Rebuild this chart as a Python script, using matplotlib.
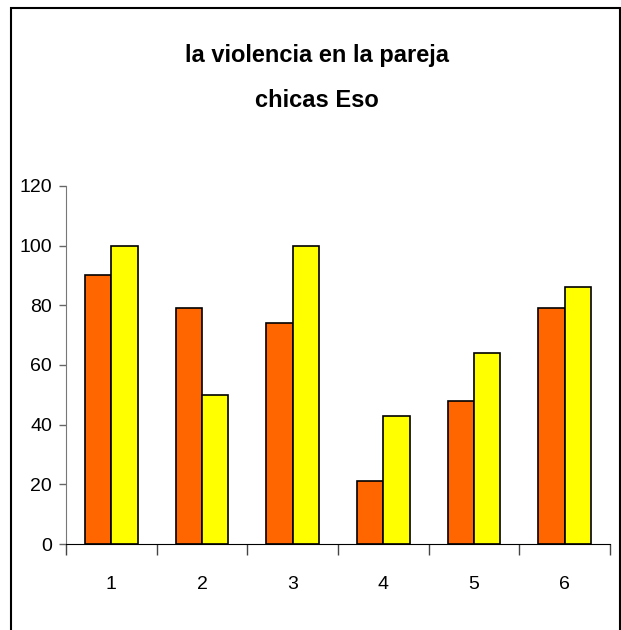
import numpy as np
import matplotlib.pyplot as plt
from matplotlib.patches import Rectangle

# data
categories = ['1', '2', '3', '4', '5', '6']
serie_naranja = [90, 79, 74, 21, 48, 79]
serie_amarilla = [100, 50, 100, 43, 64, 86]
y_ticks = [0, 20, 40, 60, 80, 100, 120]

plt.rcParams['font.family'] = ['Liberation Sans Narrow', 'Liberation Sans', 'DejaVu Sans']

fig = plt.figure(figsize=(6.21, 6.30), dpi=100)
ax = fig.add_axes([0.1063, 0.1365, 0.876, 0.5683])

x = np.arange(len(categories))
w = 0.292
ax.bar(x - w / 2, serie_naranja, width=w, color='#FF6600', edgecolor='black', linewidth=1.2)
ax.bar(x + w / 2, serie_amarilla, width=w, color='#FFFF00', edgecolor='black', linewidth=1.2)

ax.set_xlim(-0.5, len(categories) - 0.5)
ax.set_ylim(0, 120)
ax.set_yticks(y_ticks)
ax.set_yticklabels([str(v) for v in y_ticks], fontsize=14)

# category labels between the boundary ticks
ax.set_xticks(x)
ax.set_xticklabels(categories, fontsize=14)
ax.tick_params(axis='x', length=0, pad=23)
ax.set_xticks(np.arange(len(categories) + 1) - 0.5, minor=True)
ax.tick_params(axis='x', which='minor', length=8, width=1, color='#444444', direction='out')
ax.tick_params(axis='y', length=5, width=1, color='#666666', pad=5)

for s in ['top', 'right']:
    ax.spines[s].set_visible(False)
ax.spines['left'].set_color('#777777')
ax.spines['bottom'].set_color('black')

fig.text(0.51, 0.912, 'la violencia en la pareja', ha='center', va='center',
         fontsize=17, fontweight='bold')
fig.text(0.51, 0.841, 'chicas Eso', ha='center', va='center',
         fontsize=17, fontweight='bold')

# outer frame of the chart area
fig.patches.append(Rectangle((11 / 621, -0.05), 609 / 621, 0.05 + 1 - 7.5 / 630,
                             transform=fig.transFigure, fill=False,
                             edgecolor='black', linewidth=1.5))

fig.savefig('out.png', dpi=100)
